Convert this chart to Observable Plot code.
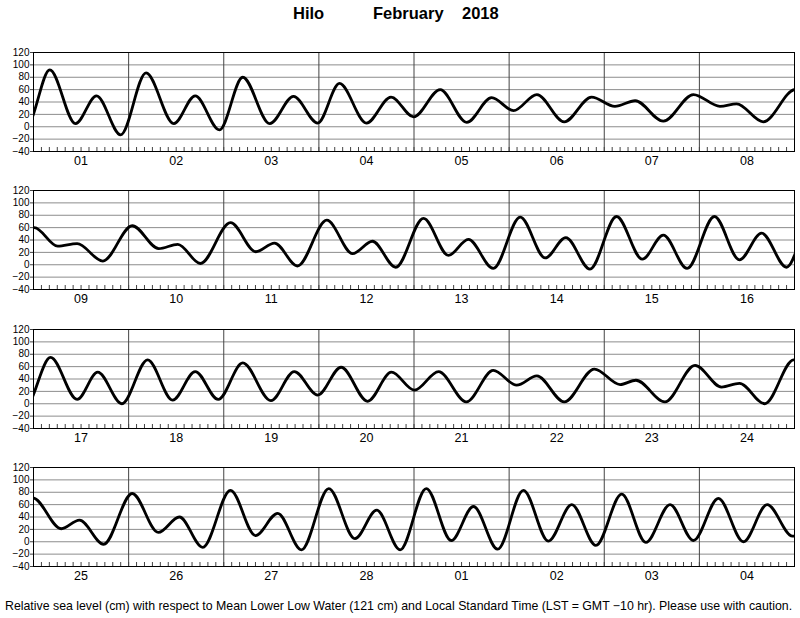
<!DOCTYPE html>
<html>
<head>
<meta charset="utf-8">
<script src="https://cdn.jsdelivr.net/npm/d3@7"></script>
<script src="https://cdn.jsdelivr.net/npm/@observablehq/plot@0.6"></script>
<style>
  html, body { margin: 0; padding: 0; background: #fff; }
  #page { position: relative; width: 800px; height: 618px; overflow: hidden; background: #fff;
          font-family: "Liberation Sans", Arial, Helvetica, sans-serif; color: #000; }
  .t { position: absolute; top: 4.5px; font-size: 16.5px; line-height: 16.5px; font-weight: bold; white-space: nowrap; }
  #foot { position: absolute; left: 5px; top: 601px; font-size: 11.3px; line-height: 11.3px; white-space: nowrap; }
  .panel { position: absolute; left: 0; }
</style>
</head>
<body>
<div id="page">
  <div class="t" style="left:293px">Hilo</div>
  <div class="t" style="left:373px">February</div>
  <div class="t" style="left:462px">2018</div>
  <div id="foot">Relative sea level (cm) with respect to Mean Lower Low Water (121 cm) and Local Standard Time (LST = GMT −10 hr). Please use with caution.</div>
</div>
<script>
// Day labels, 8 per panel (Feb 1 – Mar 4, 2018)
const dayLabels = ["01","02","03","04","05","06","07","08",
                   "09","10","11","12","13","14","15","16",
                   "17","18","19","20","21","22","23","24",
                   "25","26","27","28","01","02","03","04"];

// Times of high / low water, hours since Feb 1 00:00 LST
const eventHour = [
  -7.5, -1.5, 4.1, 10.6, 15.9, 22.0, 28.4, 35.4, 40.8, 46.9, 52.8, 59.6, 65.6, 71.7, 77.2, 84.0, 90.2,
  95.9, 102.6, 109.3, 115.6, 121.1, 127.0, 133.9, 140.8, 146.7, 151.8, 158.9, 166.5, 173.2, 177.4, 184.1, 192.2,
  198.1, 203.0, 209.5, 216.9, 223.6, 228.4, 234.1, 241.7, 248.1, 252.8, 258.6, 266.0, 272.5, 277.5, 283.4,
  290.4, 296.7, 301.7, 308.0, 314.8, 321.1, 326.3, 332.4, 339.1, 345.6, 350.9, 356.9, 363.8, 370.1, 375.7, 382.0,
  388.3, 395.0, 400.2, 406.3, 412.8, 419.1, 424.8, 430.6, 436.8, 443.9, 449.8, 455.7, 461.6, 468.3, 474.3,
  480.1, 486.2, 493.2, 500.0, 505.9, 511.0, 517.9, 525.5, 532.0, 536.0, 543.3, 550.9, 557.6, 562.1, 568.5, 575.8,
  583.0, 587.6, 593.7, 600.9, 607.5, 612.8, 618.7, 625.7, 632.0, 637.6, 643.6, 650.5, 657.1, 662.6, 668.5,
  675.1, 681.4, 687.0, 693.1, 699.6, 705.9, 711.8, 717.9, 724.4, 730.5, 736.6, 742.5, 748.8, 755.1, 761.1, 767.5, 773.5
];
// Heights (cm above MLLW) at those times
const eventHeight = [
  48, 5, 92, 5, 50, -13, 87, 5, 50, -5, 80, 5, 49, 6, 70, 6, 48,
  16, 60, 7, 47, 26, 52, 8, 48, 33, 42, 9, 52, 33, 37, 8, 60,
  30, 34, 6, 63, 26, 33, 2, 68, 21, 35, -2, 72, 18, 38, -4,
  75, 15, 41, -6, 77, 11, 44, -7, 78, 9, 48, -6, 78, 8, 51, -4,
  75, 7, 51, 0, 71, 6, 52, 7, 66, 5, 52, 14, 59, 4, 51,
  22, 52, 3, 54, 30, 45, 3, 56, 31, 38, 3, 62, 27, 33, 0, 71,
  21, 35, -4, 78, 15, 40, -9, 83, 10, 46, -13, 86, 5, 51, -13,
  86, 2, 57, -12, 83, 1, 60, -6, 77, -1, 60, 2, 70, 0, 60, 9, 62
];

const yTicks = [-40, -20, 0, 20, 40, 60, 80, 100, 120];

const tides = eventHour.map((h, i) => ({hour: h, height: eventHeight[i]}));

const W = 800, H = 138, mT = 8, mB = 31, mL = 33, mR = 6;
const plotH = H - mT - mB;
const panelTops = [43.5, 182, 320.5, 459];
const font = '"Liberation Sans", Arial, Helvetica, sans-serif';

const page = document.getElementById("page");

for (let p = 0; p < 4; p++) {
  const start = p * 192, end = start + 192;
  const days = d3.range(8).map(i => ({center: start + i * 24 + 12, label: dayLabels[p * 8 + i]}));
  const pts = tides.filter(d => d.hour >= start - 20 && d.hour <= end + 20);
  const chart = Plot.plot({
    width: W, height: H,
    marginTop: mT, marginBottom: mB, marginLeft: mL, marginRight: mR,
    x: {domain: [start, end], axis: null, label: null},
    y: {domain: [-40, 120], axis: null, label: null},
    style: {fontFamily: font, background: "white", color: "black", overflow: "visible"},
    marks: [
      Plot.gridY(yTicks, {stroke: "#8c8c8c", strokeOpacity: 1, strokeWidth: 1}),
      Plot.ruleX(d3.range(start + 24, end, 24), {stroke: "#444", strokeWidth: 1}),
      Plot.tickX(d3.range(start + 2, end, 2), {stroke: "#444", strokeWidth: 1, insetTop: plotH - 4}),
      Plot.line(pts, {x: "hour", y: "height", curve: "monotone-x", stroke: "black", strokeWidth: 2.8, clip: true}),
      Plot.frame({stroke: "black", strokeWidth: 1}),
      Plot.axisY(yTicks, {tickSize: 3, tickPadding: 1, fontSize: 10, stroke: "#444", label: null}),
      Plot.text(days, {x: "center", frameAnchor: "bottom", dy: 9, text: "label", fontSize: 12.5, lineAnchor: "middle", fill: "black"})
    ]
  });
  const wrap = document.createElement("div");
  wrap.className = "panel";
  wrap.style.top = panelTops[p] + "px";
  wrap.appendChild(chart);
  page.appendChild(wrap);
}

// fit footer width to the reference span (x 5 → 793)
const foot = document.getElementById("foot");
const fw = foot.getBoundingClientRect().width;
if (fw > 0) {
  const fs = 11.3 * 788 / fw;
  foot.style.fontSize = fs + "px";
  foot.style.lineHeight = fs + "px";
  foot.style.top = (610.7 - fs * 0.8465) + "px";
}
</script>
</body>
</html>
